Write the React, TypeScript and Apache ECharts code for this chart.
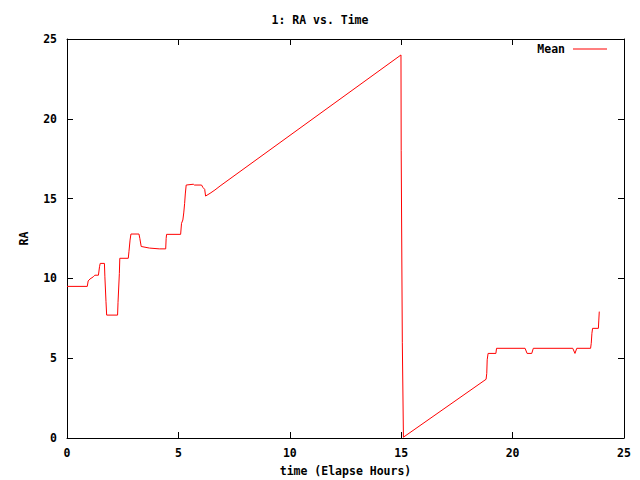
import React, { useEffect, useRef } from "react";
import * as echarts from "echarts";

const hours = [
  0, 0.91, 0.95, 1.03, 1.18, 1.25, 1.41, 1.46, 1.49, 1.68,
  1.7, 1.75, 1.78, 2.27, 2.29, 2.35, 2.37, 2.75, 2.78, 2.83,
  2.87, 3.23, 3.27, 3.33, 3.7, 4.14, 4.43, 4.45, 4.47, 5.1,
  5.14, 5.2, 5.24, 5.28, 5.31, 5.35, 5.67, 5.72, 6.04, 6.1,
  6.18, 6.22, 6.42, 6.64, 6.87, 14.99, 15.0, 15.05, 15.1, 18.81,
  18.84, 18.86, 18.9, 19.25, 19.28, 20.56, 20.65, 20.86, 20.93, 22.7,
  22.8, 22.88, 23.5, 23.53, 23.56, 23.59, 23.85, 23.87, 23.89,
];
const ra = [
  9.5, 9.5, 9.84, 9.96, 10.1, 10.2, 10.2, 10.73, 10.94, 10.94,
  10.1, 8.54, 7.7, 7.7, 8.5, 10.3, 11.26, 11.26, 11.67, 12.4,
  12.78, 12.78, 12.5, 12.0, 11.9, 11.85, 11.85, 12.5, 12.76, 12.76,
  13.45, 13.66, 14.1, 14.7, 15.29, 15.85, 15.9, 15.85, 15.85, 15.7,
  15.58, 15.16, 15.33, 15.54, 15.79, 24.0, 18.0, 6.0, 0.05, 3.68,
  4.05, 4.9, 5.3, 5.3, 5.62, 5.62, 5.3, 5.3, 5.62, 5.62,
  5.3, 5.62, 5.62, 5.93, 6.56, 6.87, 6.87, 7.39, 7.92,
];
const seriesName = "Mean";
const titleText = "1: RA vs. Time";
const xName = "time (Elapse Hours)";
const yName = "RA";

const FONT = "DejaVu Sans Mono";

export default function App() {
  const ref = useRef<HTMLDivElement>(null);
  useEffect(() => {
    if (!ref.current) return;
    const chart = echarts.init(ref.current, undefined, { renderer: "svg" });
    const data = hours.map((h, i) => [h, ra[i]]);
    const textBase = { fontFamily: FONT, fontWeight: "bold" as const, fontSize: 11.5, color: "#000" };
    const axisCommon = {
      type: "value" as const,
      min: 0,
      max: 25,
      interval: 5,
      splitLine: { show: false },
      axisLine: { show: true, onZero: false, lineStyle: { color: "#000", width: 1 } },
      axisTick: { show: true, inside: true, length: 6, lineStyle: { color: "#000" } },
    };
    chart.setOption({
      animation: false,
      backgroundColor: "#fff",
      title: {
        text: titleText,
        left: "center",
        top: 9,
        textStyle: { ...textBase },
      },
      legend: {
        right: 28,
        top: 38,
        align: "right",
        icon: "rect",
        itemWidth: 34,
        itemHeight: 1,
        itemGap: 6,
        textStyle: { ...textBase, padding: [0, 3, 0, 0] },
        data: [{ name: seriesName, itemStyle: { color: "#ff0000" } }],
      },
      grid: { left: 67, right: 16, top: 39, bottom: 42, containLabel: false, outerBoundsMode: "none" },
      xAxis: [
        {
          ...axisCommon,
          position: "bottom",
          name: xName,
          nameLocation: "middle",
          nameGap: 27,
          nameTextStyle: { ...textBase },
          axisLabel: { ...textBase, margin: 9 },
        },
        {
          ...axisCommon,
          position: "top",
          axisLabel: { show: false },
        },
      ],
      yAxis: [
        {
          ...axisCommon,
          position: "left",
          name: yName,
          nameLocation: "middle",
          nameGap: 37,
          nameRotate: 90,
          nameTextStyle: { ...textBase },
          axisLabel: { ...textBase, margin: 10 },
        },
        {
          ...axisCommon,
          position: "right",
          axisLabel: { show: false },
        },
      ],
      series: [
        {
          name: seriesName,
          type: "line",
          data,
          showSymbol: false,
          symbol: "none",
          lineStyle: { color: "#ff0000", width: 1 },
          itemStyle: { color: "#ff0000" },
        },
      ],
    });
    return () => chart.dispose();
  }, []);
  return <div ref={ref} style={{ width: 640, height: 480, position: "absolute", left: 0, top: 0 }} />;
}
